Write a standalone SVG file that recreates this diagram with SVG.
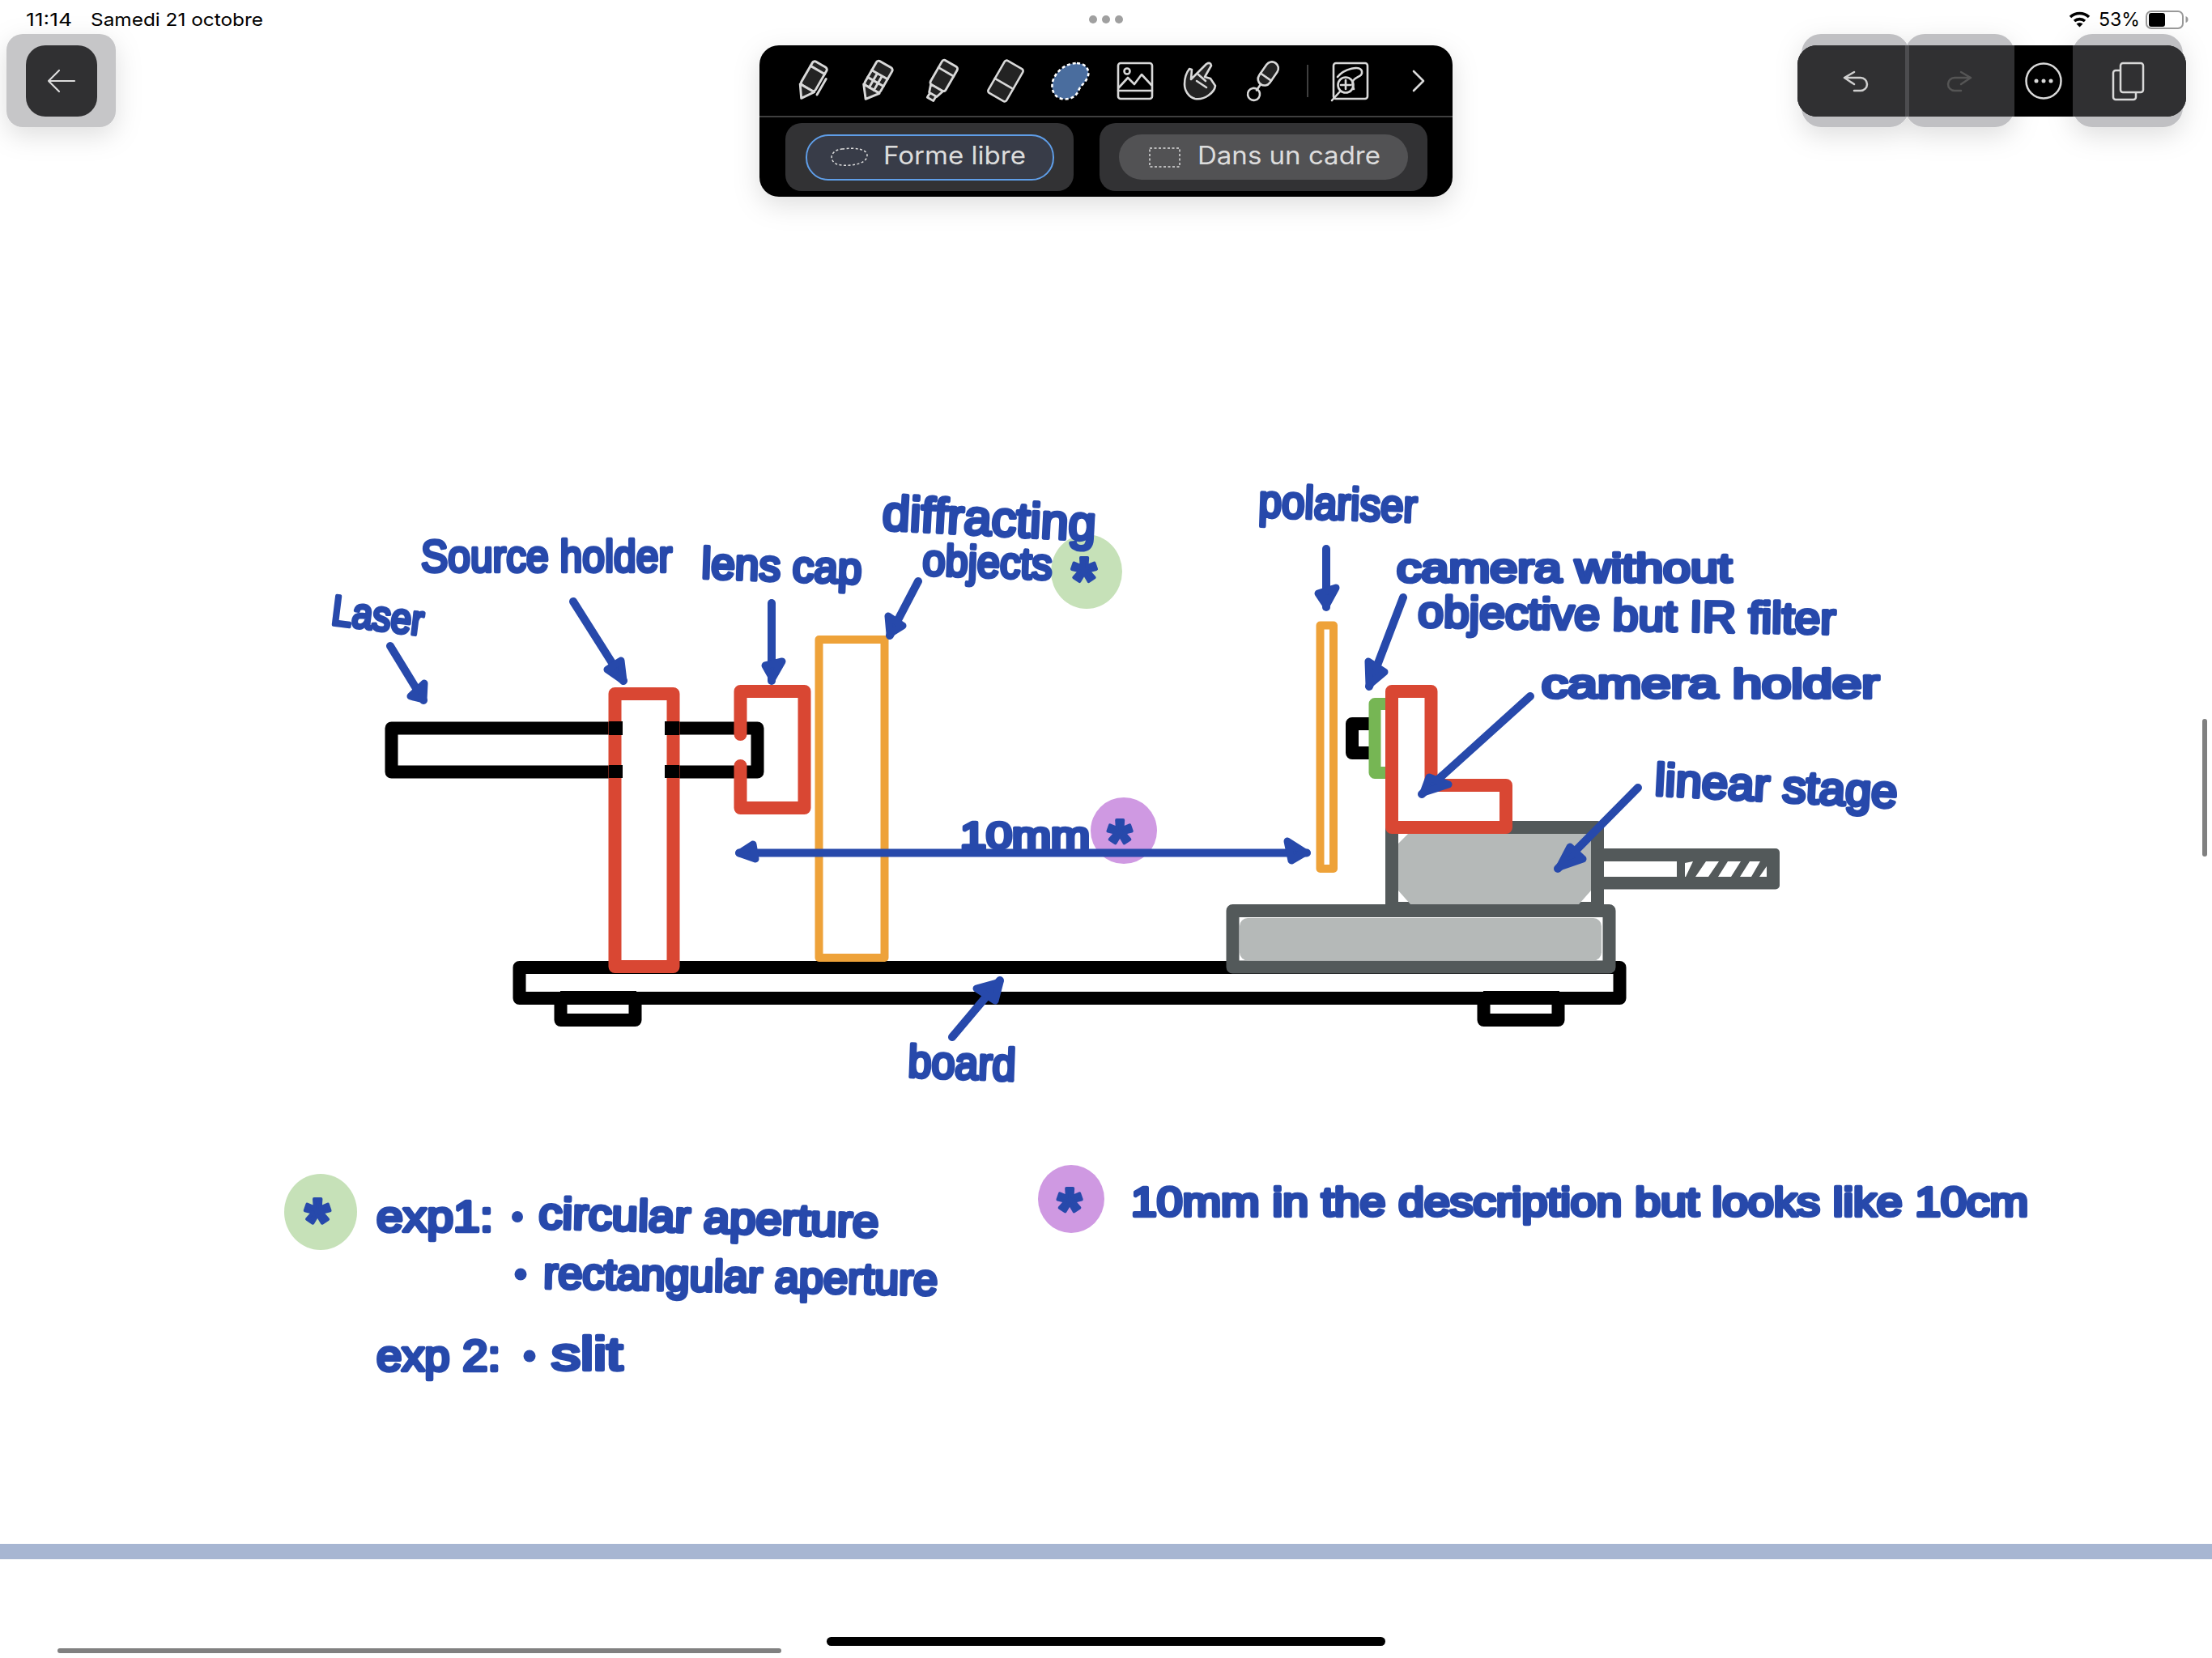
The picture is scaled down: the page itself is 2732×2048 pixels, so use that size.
<svg xmlns="http://www.w3.org/2000/svg" width="2732" height="2048" viewBox="0 0 2732 2048">
<style>
.ui{font-family:"Inter","Liberation Sans",sans-serif}
.hw{font-family:"Liberation Sans",Arial,sans-serif;fill:#2749ab;stroke:#2749ab;stroke-width:4.5;stroke-linejoin:round;stroke-linecap:round;paint-order:stroke}
.ast{font-family:"Liberation Sans",Arial,sans-serif;font-weight:bold;fill:#2749ab;stroke:#2749ab;stroke-width:4;stroke-linejoin:round;text-anchor:middle}
.arrow{fill:none;stroke:#2749ab;stroke-width:10;stroke-linecap:round;stroke-linejoin:round}
.head{fill:#2749ab;stroke:#2749ab;stroke-width:9;stroke-linejoin:round}
.blk{fill:#fff;stroke:#000;stroke-linejoin:round}
.red{fill:#fff;stroke:#d94733;stroke-width:16;stroke-linejoin:round}
.org{fill:#fff;stroke:#eea239;stroke-width:10;stroke-linejoin:round}
.gry{fill:#fff;stroke:#53595a;stroke-width:16;stroke-linejoin:round}
.fillg{fill:#b5b9b8}
.ic{fill:#232323;stroke:#d9d9d9;stroke-width:2.6;stroke-linejoin:round;stroke-linecap:round}
.ln{fill:none;stroke:#d9d9d9;stroke-width:2.6;stroke-linejoin:round;stroke-linecap:round}
</style>
<defs>
<filter id="sh" x="-30%" y="-30%" width="160%" height="170%"><feDropShadow dx="0" dy="10" stdDeviation="16" flood-color="#000" flood-opacity=".13"/></filter>
<clipPath id="tbclip"><rect x="2220" y="56" width="480" height="88" rx="24"/></clipPath>
</defs>
<rect width="2732" height="2048" fill="#fff"/>

<g id="status-bar">
<text class="ui" x="32" y="32" font-size="22" textLength="57" lengthAdjust="spacingAndGlyphs" fill="#000">11:14</text>
<text class="ui" x="112" y="32" font-size="22" textLength="213" lengthAdjust="spacingAndGlyphs" fill="#000">Samedi 21 octobre</text>
<g fill="#a0a0a0"><circle cx="1350" cy="24" r="5"/><circle cx="1366" cy="24" r="5"/><circle cx="1382" cy="24" r="5"/></g>
<path d="M2557 21a17 17 0 0 1 23 0M2562 26a10 10 0 0 1 13 0" fill="none" stroke="#000" stroke-width="3.6"/><path d="M2564.500 29.500l4 4 4-4a6 6 0 0 0-8 0z" fill="#000"/>
<text class="ui" x="2592" y="32" font-size="23" textLength="51" lengthAdjust="spacingAndGlyphs" fill="#000">53%</text>
<rect x="2651" y="14" width="45" height="21" rx="6" fill="#fff" stroke="#999" stroke-width="2"/>
<rect x="2654" y="16" width="20" height="17" rx="3" fill="#000"/>
<path d="M2699.500 20v8q3-1 3-4t-3-4z" fill="#999"/>
</g>

<g id="back-button">
<rect x="8" y="42" width="135" height="115" rx="20" fill="#c6c6c8" filter="url(#sh)"/>
<rect x="32" y="56" width="88" height="88" rx="24" fill="#303032"/>
<path d="M73 87L60 100L73 113M60 100H92" fill="none" stroke="#dcdcdc" stroke-width="2.2" stroke-linecap="round" stroke-linejoin="round"/>
</g>

<g id="tool-palette">
<rect x="938" y="56" width="856" height="187" rx="24" fill="#000" filter="url(#sh)"/>
<path d="M938 144H1794" stroke="#555" stroke-width="1.500"/>
<g transform="translate(1002 100) rotate(30) scale(1.12)"><rect class="ic" x="-9" y="-21" width="18" height="30" rx="3"/><path class="ic" d="M-9 9L0 22L9 9z"/><path class="ln" d="M-9 -14H9M13 -10V10"/></g>
<g transform="translate(1082 100) rotate(30) scale(1.12)"><rect class="ic" x="-10" y="-21" width="20" height="31" rx="3"/><path class="ic" d="M-10 10L0 23L10 10z"/><path class="ln" d="M-10 -8H10M-10 1H10M-3 -8V10M3 -8V10"/></g>
<g transform="translate(1162 100) rotate(30) scale(1.08)"><rect class="ic" x="-10" y="-23" width="20" height="32" rx="3"/><path class="ic" d="M-8 9L-5 18H5L8 9zM-4 18V24H4V18"/><path class="ln" d="M-10 -12H10"/></g>
<g transform="translate(1242 100) rotate(30)"><rect class="ic" x="-13" y="-23" width="26" height="46" rx="3"/><path class="ln" d="M-13 4H13"/></g>
<g id="lasso-tool"><path d="M1330 78C1342 78 1347 88 1343 96C1340 103 1335 105 1332 112C1329 120 1320 124 1311 122C1301 120 1297 108 1301 98C1305 88 1316 78 1330 78Z" fill="#4a6d9e" stroke="#fff" stroke-width="2.600" stroke-dasharray="4 3"/></g>
<g><rect class="ln" x="1381" y="78" width="42" height="44" rx="3"/><circle class="ln" cx="1392" cy="88" r="3.500"/><path class="ln" d="M1382 108L1393 96L1401 104L1410 92L1422 105M1381 112H1423"/></g>
<g><path class="ic" d="M1476 122C1468 120 1463 112 1463 104C1463 97 1465 90 1469 85L1472 86L1471 98L1490 79Q1495 76 1496 81L1488 95L1495 97L1501 106C1500 114 1488 124 1476 122Z"/><path class="ln" d="M1480 92L1489 100M1478 100L1490 108"/></g>
<g transform="translate(1560 100) rotate(35)"><rect class="ic" x="-8" y="-27" width="16" height="32" rx="8"/><path class="ln" d="M-8 -6H8M0 5V14"/><circle class="ln" cx="0" cy="20" r="7.500"/></g>
<path d="M1615 80V120" stroke="#555" stroke-width="1.500"/>
<g><rect class="ln" x="1647" y="78" width="42" height="44" rx="3"/><path class="ln" d="M1652 95C1660 85 1680 80 1682 88C1684 98 1665 92 1672 110M1655 113L1645 124M1662 99V110M1656 105H1668"/><circle class="ln" cx="1662" cy="105" r="9.500"/></g>
<path class="ln" d="M1746 88L1758 100L1746 112"/>
<rect x="970" y="152" width="356" height="84" rx="20" fill="#323234"/>
<rect x="996" y="167" width="305" height="55" rx="27" fill="#383c48" stroke="#5f9ee8" stroke-width="2"/>
<path d="M1040 184C1056 182 1071 184 1071 192C1071 204 1045 206 1034 203C1024 199 1024 186 1040 184Z" fill="none" stroke="#dcdcdc" stroke-width="1.500" stroke-dasharray="3 2.500"/>
<text class="ui" x="1091" y="203" font-size="31" textLength="176" lengthAdjust="spacingAndGlyphs" fill="#dcdcdc">Forme libre</text>
<rect x="1358" y="152" width="405" height="84" rx="20" fill="#323234"/>
<rect x="1382" y="166" width="357" height="56" rx="28" fill="#525254"/>
<rect x="1420" y="183" width="37" height="23" fill="none" stroke="#dcdcdc" stroke-width="1.500" stroke-dasharray="3 2.500"/>
<text class="ui" x="1479" y="203" font-size="31" textLength="226" lengthAdjust="spacingAndGlyphs" fill="#dcdcdc">Dans un cadre</text>
</g>

<g id="top-right-toolbar">
<g fill="#c0c0c3" filter="url(#sh)"><rect x="2225" y="42" width="133" height="115" rx="24"/><rect x="2353" y="42" width="135" height="115" rx="24"/><rect x="2560" y="42" width="136" height="115" rx="24"/></g>
<g clip-path="url(#tbclip)">
<rect x="2220" y="56" width="480" height="88" fill="#000"/>
<rect x="2220" y="56" width="268" height="88" fill="#303032"/>
<rect x="2353" y="56" width="5" height="88" fill="#4d4d50"/>
<rect x="2560" y="56" width="140" height="88" fill="#303032"/>
</g>
<path d="M2290 89L2278 96L2290 104M2278 96H2298a8 8 0 0 1 0 16H2290" fill="none" stroke="#cfcfcf" stroke-width="2.500" stroke-linecap="round" stroke-linejoin="round"/>
<path d="M2422 89L2434 96L2422 104M2434 96H2414a8 8 0 0 0 0 16H2422" fill="none" stroke="#555" stroke-width="2.500" stroke-linecap="round" stroke-linejoin="round"/>
<circle cx="2524" cy="100" r="21.500" fill="none" stroke="#d9d9d9" stroke-width="2.500"/>
<g fill="#d9d9d9"><circle cx="2515" cy="100" r="2.500"/><circle cx="2524" cy="100" r="2.500"/><circle cx="2533" cy="100" r="2.500"/></g>
<rect x="2610" y="87" width="28" height="36" rx="3" fill="none" stroke="#d9d9d9" stroke-width="2.500"/>
<rect x="2619" y="78" width="28" height="36" rx="3" fill="#303032" stroke="#d9d9d9" stroke-width="2.500"/>
</g>

<g id="board"><rect class="blk" x="641.500" y="1195" width="1359" height="38" stroke-width="16"/>
<rect class="blk" x="692.500" y="1233" width="92" height="27" stroke-width="16"/>
<rect class="blk" x="1832.500" y="1233" width="92" height="27" stroke-width="16"/>
<rect x="652" y="1203" width="1336" height="21" fill="#fff"/><path d="M692 1224H786V1241H692zM1832 1224H1926V1241H1832z" fill="#000"/></g>

<g id="laser"><rect class="blk" x="483.500" y="899.500" width="452" height="54" stroke-width="16"/></g>
<g id="source-holder"><rect class="red" x="759.500" y="857" width="72" height="337"/>
<path d="M752 891H769V908H752zM752 945H769V961H752zM821 891H839V908H821zM821 945H839V961H821z" fill="#000"/></g>
<g id="lens-cap"><path d="M914.500 907V854H993.500V998H914.500V946" fill="none" stroke="#d94733" stroke-width="16" stroke-linecap="round" stroke-linejoin="round"/></g>
<g id="diffracting-objects"><rect class="org" x="1011.500" y="790" width="81" height="393"/></g>
<g id="polariser"><rect class="org" x="1630.500" y="772.500" width="16.500" height="300.500"/></g>
<g id="camera"><rect class="blk" x="1670" y="894" width="30" height="36" stroke-width="16"/>
<rect x="1698" y="869.500" width="24" height="85" fill="#fff" stroke="#76b654" stroke-width="15" stroke-linejoin="round"/></g>
<g id="linear-stage">
<rect class="gry" x="1719" y="1022" width="254" height="100"/>
<path class="fillg" d="M1739 1030H1965V1100L1950 1117H1742L1727 1100V1042Z"/>
<rect x="1973" y="1048" width="225" height="50.500" rx="5" fill="#53595a"/>
<rect x="1981" y="1064" width="90" height="19" fill="#fff"/>
<path fill="#fff" d="M2081 1083V1066L2091 1064L2082 1083ZM2094 1083L2107 1064H2123L2110 1083ZM2122 1083L2134 1064H2150L2138 1083ZM2149 1083L2161 1064H2174L2163 1083ZM2173 1083L2182 1070V1083Z"/>
<rect class="gry" x="1522.500" y="1125" width="465" height="69.500" stroke-width="15"/>
<rect class="fillg" x="1531" y="1134" width="447" height="52.500" rx="10"/>
</g>
<g id="camera-holder"><path class="red" d="M1719 854H1767.500V970H1860V1022H1719Z"/></g>

<ellipse id="blob-diffracting" cx="1342" cy="706" rx="44" ry="46" fill="#c6e1b8"/>
<ellipse id="blob-distance" cx="1388" cy="1026" rx="41" ry="41" fill="#cf99e2"/>

<g id="connectors">
<path class="arrow" d="M482 798L523 865"/><path class="head" d="M507 860L523 864L524 844Z"/>
<path class="arrow" d="M708 743L770 841"/><path class="head" d="M750 827L770 841L767 816Z"/>
<path class="arrow" d="M953 745V841"/><path class="head" d="M945 822L954 838L966 817Z"/>
<path class="arrow" d="M1134 718L1099 785"/><path class="head" d="M1097 761L1099 783L1115 773Z"/>
<path class="arrow" d="M1176 1281L1235 1211"/><path class="head" d="M1206 1221L1235 1213L1229 1236Z"/>
<path class="arrow" d="M1638 678V750"/><path class="head" d="M1628 733L1638 748L1650 726Z"/>
<path class="arrow" d="M1733 738L1691 848"/><path class="head" d="M1690 817L1691 846L1710 830Z"/>
<path class="arrow" d="M1890 860L1756 981"/><path class="head" d="M1765 960L1758 979L1789 969Z"/>
<path class="arrow" d="M2023 973L1924 1073"/><path class="head" d="M1939 1046L1926 1071L1955 1061Z"/>
<path class="arrow" d="M913 1053.500H1614"/><path class="head" d="M930 1043L913 1054L933 1061Z"/><path class="head" d="M1590 1039L1612 1053L1595 1063Z"/>
</g>

<g id="labels">
<text class="hw" x="408" y="771" font-size="52" textLength="114" lengthAdjust="spacingAndGlyphs" transform="rotate(7 408 771)">Laser</text>
<text class="hw" x="520" y="706" font-size="56" textLength="310" lengthAdjust="spacingAndGlyphs">Source holder</text>
<text class="hw" x="866" y="714" font-size="54" textLength="198" lengthAdjust="spacingAndGlyphs" transform="rotate(2 866 714)">lens cap</text>
<text class="hw" x="1089" y="654" font-size="60" textLength="264" lengthAdjust="spacingAndGlyphs" transform="rotate(3 1089 654)">diffracting</text>
<text class="hw" x="1139" y="710" font-size="54" textLength="160" lengthAdjust="spacingAndGlyphs" transform="rotate(2 1139 710)">objects</text>
<text class="ast" x="1339" y="743" font-size="78">*</text>
<text class="hw" x="1186" y="1048" font-size="46" textLength="160" lengthAdjust="spacingAndGlyphs">10mm</text>
<text class="ast" x="1383" y="1065" font-size="76">*</text>
<text class="hw" x="1554" y="638" font-size="56" textLength="196" lengthAdjust="spacingAndGlyphs" transform="rotate(2 1554 638)">polariser</text>
<text class="hw" x="1725" y="719" font-size="50" textLength="414" lengthAdjust="spacingAndGlyphs">camera without</text>
<text class="hw" x="1751" y="774" font-size="54" textLength="516" lengthAdjust="spacingAndGlyphs" transform="rotate(1 1751 774)">objective but IR filter</text>
<text class="hw" x="1904" y="862" font-size="50" textLength="417" lengthAdjust="spacingAndGlyphs">camera holder</text>
<text class="hw" x="2043" y="982" font-size="56" textLength="300" lengthAdjust="spacingAndGlyphs" transform="rotate(3 2043 982)">linear stage</text>
<text class="hw" x="1121" y="1330" font-size="56" textLength="133" lengthAdjust="spacingAndGlyphs" transform="rotate(2 1121 1330)">board</text>
</g>

<g id="legend-diffracting">
<ellipse cx="396" cy="1497" rx="45" ry="47" fill="#c6e1b8"/>
<text class="ast" x="392" y="1536" font-size="80">*</text>
<text class="hw" x="465" y="1521" font-size="54" textLength="144" lengthAdjust="spacingAndGlyphs">exp1:</text>
<circle cx="639" cy="1503" r="7" fill="#2749ab"/>
<text class="hw" x="665" y="1517" font-size="54" textLength="420" lengthAdjust="spacingAndGlyphs" transform="rotate(1.500 665 1517)">circular aperture</text>
<circle cx="643" cy="1574" r="7.500" fill="#2749ab"/>
<text class="hw" x="671" y="1591" font-size="54" textLength="487" lengthAdjust="spacingAndGlyphs" transform="rotate(1 671 1591)">rectangular aperture</text>
<text class="hw" x="465" y="1693" font-size="54" textLength="153" lengthAdjust="spacingAndGlyphs">exp 2:</text>
<circle cx="654" cy="1675" r="7.500" fill="#2749ab"/>
<text class="hw" x="681" y="1692" font-size="58" textLength="88" lengthAdjust="spacingAndGlyphs">slit</text>
</g>

<g id="legend-distance">
<ellipse cx="1323" cy="1481" rx="41" ry="42" fill="#cf99e2"/>
<text class="ast" x="1321" y="1520" font-size="76">*</text>
<text class="hw" x="1397" y="1502" font-size="50" textLength="1108" lengthAdjust="spacingAndGlyphs">10mm in the description but looks like 10cm</text>
</g>

<g id="page-chrome">
<rect x="0" y="1907" width="2732" height="19" fill="#a7b6d2"/>
<rect x="71" y="2036" width="894" height="6" rx="3" fill="#808080"/>
<rect x="1021" y="2022" width="690" height="11" rx="5.500" fill="#000"/>
<rect x="2720" y="888" width="6" height="170" rx="3" fill="#808080"/>
</g>
</svg>
